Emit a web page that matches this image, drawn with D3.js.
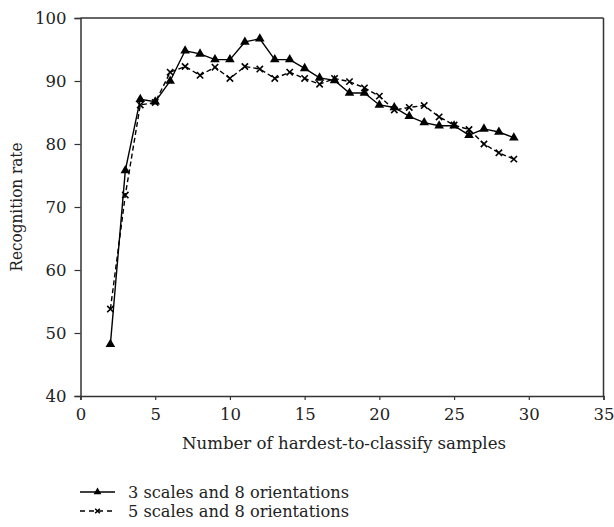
<!DOCTYPE html>
<html><head><meta charset="utf-8">
<script src="https://cdn.jsdelivr.net/npm/d3@7"></script>
<style>body{margin:0;background:#fff}svg{display:block}</style>
</head><body><svg id="c" width="614" height="527"></svg>
<script>
const xValues = [2,3,4,5,6,7,8,9,10,11,12,13,14,15,16,17,18,19,20,21,22,23,24,25,26,27,28,29];
const series1Name = "3 scales and 8 orientations";
const series1 = [48.2,75.8,87.1,86.7,90.0,94.8,94.3,93.4,93.4,96.2,96.7,93.4,93.4,92.0,90.5,90.1,88.1,88.1,86.2,85.8,84.4,83.4,82.9,82.9,81.4,82.4,81.9,81.0];
const series2Name = "5 scales and 8 orientations";
const series2 = [53.8,71.9,86.2,86.6,91.4,92.3,90.9,92.2,90.4,92.3,91.9,90.4,91.4,90.4,89.5,90.4,89.9,88.9,87.6,85.4,85.8,86.1,84.3,83.0,82.3,80.0,78.6,77.6];
const xTicks = [0,5,10,15,20,25,30,35];
const yTicks = [40,50,60,70,80,90,100];
const xTitle = "Number of hardest-to-classify samples";
const yTitle = "Recognition rate";

const svg = d3.select("#c");
const L=80.5, R=603.5, T=18, B=396;
const x = d3.scaleLinear().domain([0,35]).range([L,R]);
const y = d3.scaleLinear().domain([40,100]).range([B,T]);
const axisColor="#333";
const FONT = "DejaVu Serif";
const FS = 16.5;
const TXT = "#222";

svg.append("line").attr("x1",L).attr("x2",R).attr("y1",T).attr("y2",T).attr("stroke",axisColor).attr("stroke-width",1.5);
svg.append("line").attr("x1",R).attr("x2",R).attr("y1",T).attr("y2",B).attr("stroke",axisColor).attr("stroke-width",1.5);

const gx = svg.append("g").attr("transform",`translate(0,${B})`)
  .call(d3.axisBottom(x).tickValues(xTicks).tickSize(4).tickPadding(8));
const gy = svg.append("g").attr("transform",`translate(${L},0)`)
  .call(d3.axisLeft(y).tickValues(yTicks).tickSize(6).tickPadding(8));
[gx,gy].forEach(g=>{
  g.attr("font-family",FONT).attr("font-size",FS);
  g.select(".domain").attr("stroke",axisColor).attr("stroke-width",1.5);
  g.selectAll(".tick line").attr("stroke",axisColor).attr("stroke-width",1.2);
  g.selectAll("text").attr("fill",TXT);
});

svg.append("text").attr("x",344).attr("y",449).attr("text-anchor","middle").attr("font-family",FONT).attr("font-size",FS).attr("fill",TXT)
  .attr("textLength",324).attr("lengthAdjust","spacingAndGlyphs").text(xTitle);
svg.append("text").attr("transform",`translate(22,${(T+B)/2}) rotate(-90)`).attr("text-anchor","middle").attr("font-family",FONT).attr("font-size",FS).attr("fill",TXT)
  .attr("textLength",129).attr("lengthAdjust","spacingAndGlyphs").text(yTitle);

const line = d3.line().x((d,i)=>x(xValues[i])).y(d=>y(d));
svg.append("path").datum(series1).attr("d",line).attr("fill","none").attr("stroke","#000").attr("stroke-width",1.4);
svg.append("path").datum(series2).attr("d",line).attr("fill","none").attr("stroke","#000").attr("stroke-width",1.4).attr("stroke-dasharray","5,3");

const tri = d3.symbol().type(d3.symbolTriangle).size(40);
const cross = d3.symbol().type(d3.symbolX).size(28);
svg.append("g").selectAll("path").data(series1).join("path")
  .attr("transform",(d,i)=>`translate(${x(xValues[i])},${y(d)})`).attr("d",tri).attr("fill","#000");
svg.append("g").selectAll("path").data(series2).join("path")
  .attr("transform",(d,i)=>`translate(${x(xValues[i])},${y(d)})`).attr("d",cross).attr("fill","none").attr("stroke","#000").attr("stroke-width",1.6);

const lg = svg.append("g");
const items=[{name:series1Name,yy:492,dash:null,t:d3.symbolTriangle,sz:26,fill:"#000",stroke:null},{name:series2Name,yy:511,dash:"5,4",t:d3.symbolX,sz:16,fill:"none",stroke:"#000"}];
items.forEach(it=>{
  lg.append("line").attr("x1",80).attr("x2",115).attr("y1",it.yy).attr("y2",it.yy).attr("stroke","#000").attr("stroke-width",1.4).attr("stroke-dasharray",it.dash);
  lg.append("path").attr("transform",`translate(97.5,${it.yy})`).attr("d",d3.symbol().type(it.t).size(it.sz)())
    .attr("fill",it.fill).attr("stroke",it.stroke).attr("stroke-width",1.5);
  lg.append("text").attr("x",128).attr("y",it.yy+5.5).attr("font-family",FONT).attr("font-size",FS).attr("fill",TXT)
    .attr("textLength",221).attr("lengthAdjust","spacingAndGlyphs").text(it.name);
});
</script></body></html>
